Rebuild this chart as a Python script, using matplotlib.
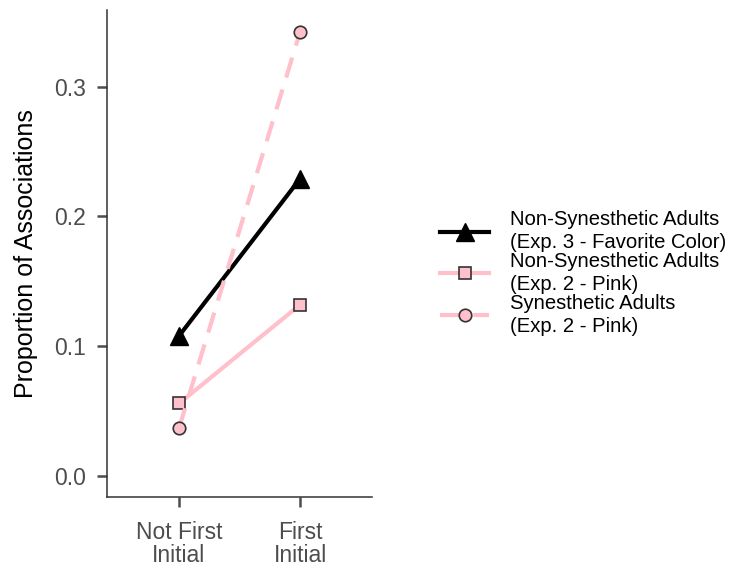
import numpy as np
import matplotlib.pyplot as plt

plt.rcParams['font.family'] = ['Liberation Sans', 'DejaVu Sans']

# data
conditions = ['Not First\nInitial', 'First\nInitial']
fav_color_nonsyn = [0.108, 0.229]
pink_nonsyn = [0.056, 0.132]
pink_syn = [0.037, 0.342]
labels = ['Non-Synesthetic Adults\n(Exp. 3 - Favorite Color)',
          'Non-Synesthetic Adults\n(Exp. 2 - Pink)',
          'Synesthetic Adults\n(Exp. 2 - Pink)']

x = np.arange(len(conditions))
gray = '#4d4d4d'

fig = plt.figure(figsize=(7.31, 5.71), dpi=100)
ax = fig.add_axes([107 / 731, 1 - 497 / 571, 265 / 731, 487 / 571])

ax.plot(x, fav_color_nonsyn, color='black', lw=3, marker='^', ms=13,
        mfc='black', mec='black', label=labels[0])
ax.plot(x, pink_nonsyn, color='pink', lw=3, marker='s', ms=8,
        mfc='pink', mec='#333333', mew=1.2, label=labels[1])
ax.plot(x, pink_syn, color='pink', lw=3, ls=(0, (5, 3)), marker='o', ms=9,
        mfc='pink', mec='#333333', mew=1.2, label=labels[2])

ax.set_xlim(-0.595, 1.595)
ax.set_ylim(-0.016, 0.359)
ax.set_xticks(x)
ax.set_xticklabels(conditions)
ax.set_yticks([0.0, 0.1, 0.2, 0.3])
ax.set_yticklabels(['0.0', '0.1', '0.2', '0.3'])
ax.set_ylabel('Proportion of Associations', fontsize=18, labelpad=12)

for s in ['top', 'right']:
    ax.spines[s].set_visible(False)
for s in ['left', 'bottom']:
    ax.spines[s].set_color('#333333')
    ax.spines[s].set_linewidth(1.1)
ax.tick_params(axis='both', colors=gray, labelsize=16.5, length=7, width=1.8,
               labelcolor=gray, pad=8)
ax.tick_params(axis='x', pad=10)
for t in ax.get_xticklabels():
    t.set_linespacing(1.0)

leg = fig.legend(loc='center left', bbox_to_anchor=(440 / 731, 1 - 273 / 571),
                 frameon=False, fontsize=14.6, handlelength=2.44,
                 labelspacing=0.0, handletextpad=1.0, borderpad=0,
                 borderaxespad=0)
for t in leg.get_texts():
    t.set_linespacing(1.26)

plt.savefig('out.png', dpi=100)
